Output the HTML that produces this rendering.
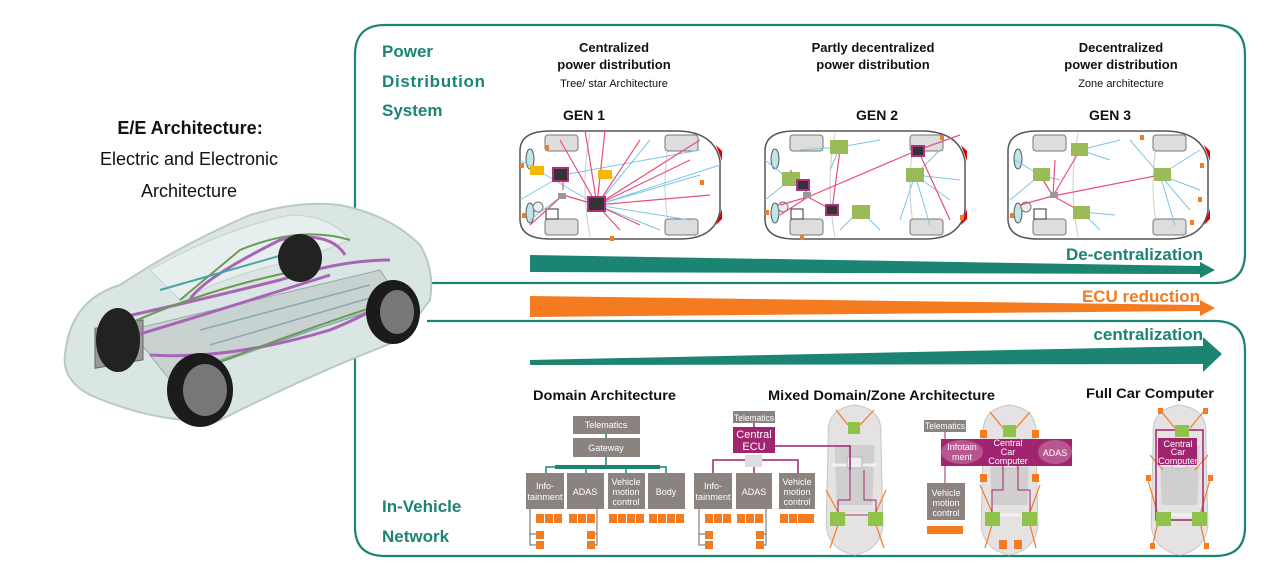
<!DOCTYPE html>
<html><head><meta charset="utf-8">
<style>
html,body{margin:0;padding:0;background:#fff;}
svg{display:block;}
text{font-family:"Liberation Sans",Arial,sans-serif;}
</style></head><body>
<svg width="1269" height="564" viewBox="0 0 1269 564" xmlns="http://www.w3.org/2000/svg">
<defs>
<g id="car">
 <path d="M10,20 Q10,0 40,0 L170,0 Q205,2 210,30 L210,80 Q205,108 170,108 L40,108 Q10,108 10,88 Z" fill="#fff" stroke="#555" stroke-width="1.5"/>
 <path d="M80,2 Q70,54 80,106 M160,4 Q150,54 160,104" fill="none" stroke="#ccc"/>
 <rect x="35" y="4" width="33" height="16" rx="3" fill="#ddd" stroke="#777"/>
 <rect x="155" y="4" width="33" height="16" rx="3" fill="#ddd" stroke="#777"/>
 <rect x="35" y="88" width="33" height="16" rx="3" fill="#ddd" stroke="#777"/>
 <rect x="155" y="88" width="33" height="16" rx="3" fill="#ddd" stroke="#777"/>
 <ellipse cx="20" cy="28" rx="4" ry="10" fill="#bfe6e6" stroke="#555"/>
 <ellipse cx="20" cy="82" rx="4" ry="10" fill="#bfe6e6" stroke="#555"/>
 <path d="M206,14 L212,20 L212,30 Z M206,94 L212,88 L212,78 Z" fill="#d00"/>
 <rect x="36" y="78" width="12" height="10" fill="none" stroke="#333"/>
 <circle cx="28" cy="76" r="5" fill="#eee" stroke="#777"/>
</g>
<g id="topcar">
 <path d="M6,30 Q4,4 31,0 Q58,4 56,30 L58,120 Q56,145 31,150 Q6,145 4,120 Z" fill="#e4e2e2" stroke="#c8c8c8"/>
 <path d="M12,40 L50,40 L48,100 L14,100 Z" fill="#d0cece"/>
 <path d="M8,110 L54,110 M10,60 L52,60" stroke="#f2f2f2" stroke-width="3"/>
 <rect x="24" y="52" width="14" height="11" fill="#eee" stroke="#bbb"/>
</g>
</defs>

<!-- frames -->
<g fill="none" stroke="#1b8472" stroke-width="2.2">
 <path d="M355,217 L355,55 Q355,25 385,25 L1215,25 Q1245,25 1245,55 L1245,253 Q1245,283 1215,283 L427,283"/>
 <path d="M427,321 L1215,321 Q1245,321 1245,351 L1245,527 Q1245,556 1215,556 L385,556 Q355,556 355,527 L355,352 Q355,340 362,338"/>
</g>

<!-- left title -->
<g text-anchor="middle" fill="#111">
 <text x="190" y="134" font-size="18" font-weight="bold">E/E Architecture:</text>
 <text x="189" y="165" font-size="18">Electric and Electronic</text>
 <text x="189" y="197" font-size="18">Architecture</text>
</g>

<!-- big car -->
<g>
 <path d="M65,355 Q70,300 120,285 Q180,245 250,215 Q300,200 340,205 Q390,215 420,245 Q435,270 430,300 L400,340 Q320,370 220,420 Q160,425 90,395 Q62,380 65,355 Z" fill="#d9e6e3" stroke="#b9c9c6" stroke-width="2"/>
 <path d="M150,270 Q220,230 290,215 Q330,215 350,240 L300,260 Q240,270 180,300 Z" fill="#e6efed" stroke="#c5d2cf"/>
 <path d="M130,330 L380,270 L400,300 L170,380 Z" fill="#c8d3d1" stroke="#9aa"/>
 <path d="M200,330 L370,285 M210,345 L380,295 M220,360 L390,305" stroke="#8aa9b0" stroke-width="1.5"/>
 <rect x="95" y="345" width="48" height="40" fill="#999" stroke="#666" transform="skewY(-10)"/>
 <path d="M110,320 Q200,300 280,280 Q340,260 390,260 M120,340 Q220,310 330,275 M150,355 Q230,360 330,330 Q380,310 400,290 M190,300 Q200,280 280,240 Q330,230 345,255" fill="none" stroke="#a964b8" stroke-width="3"/>
 <path d="M115,330 Q200,290 300,270 M200,370 Q300,330 395,300 M180,300 L240,250 Q300,225 350,240" fill="none" stroke="#6c9a58" stroke-width="2"/>
 <path d="M160,290 Q230,270 300,250" fill="none" stroke="#4aa3a6" stroke-width="2"/>
 <ellipse cx="118" cy="340" rx="22" ry="32" fill="#222"/>
 <ellipse cx="300" cy="258" rx="22" ry="24" fill="#222"/>
 <ellipse cx="200" cy="390" rx="33" ry="37" fill="#1b1b1b"/>
 <ellipse cx="205" cy="390" rx="22" ry="26" fill="#777"/>
 <ellipse cx="393" cy="312" rx="27" ry="32" fill="#1b1b1b"/>
 <ellipse cx="397" cy="312" rx="17" ry="22" fill="#777"/>
</g>

<!-- teal labels -->
<g fill="#1b8472" font-weight="bold" font-size="17">
 <text x="382" y="57">Power</text>
 <text x="382" y="87" textLength="103">Distribution</text>
 <text x="382" y="116">System</text>
 <text x="382" y="512">In-Vehicle</text>
 <text x="382" y="542">Network</text>
</g>

<!-- top headers -->
<g text-anchor="middle" fill="#111">
 <text x="614" y="52" font-size="13" font-weight="bold">Centralized</text>
 <text x="614" y="69" font-size="13" font-weight="bold">power distribution</text>
 <text x="614" y="87" font-size="11">Tree/ star Architecture</text>
 <text x="873" y="52" font-size="13" font-weight="bold">Partly decentralized</text>
 <text x="873" y="69" font-size="13" font-weight="bold">power distribution</text>
 <text x="1121" y="52" font-size="13" font-weight="bold">Decentralized</text>
 <text x="1121" y="69" font-size="13" font-weight="bold">power distribution</text>
 <text x="1121" y="87" font-size="11">Zone architecture</text>
 <text x="584" y="120" font-size="14" font-weight="bold">GEN 1</text>
 <text x="877" y="120" font-size="14" font-weight="bold">GEN 2</text>
 <text x="1110" y="120" font-size="14" font-weight="bold">GEN 3</text>
</g>

<!-- top cars -->
<use href="#car" x="510" y="131"/>
<use href="#car" x="755" y="131"/>
<use href="#car" x="998" y="131"/>
<g stroke="#7cc6e8" stroke-width="1" fill="none">
 <path d="M597,205 L520,160 M597,205 L650,140 M597,205 L700,175 M597,205 L720,165 M563,195 L530,220 M597,205 L660,230 M563,175 L700,150 M563,175 L520,200 M597,205 L690,220"/>
</g>
<g stroke="#e8507a" stroke-width="1.2" fill="none">
 <path d="M597,205 L560,140 M597,205 L585,130 M597,205 L605,130 M597,205 L640,140 M597,205 L690,160 M597,205 L710,195 M597,205 L620,230 M597,205 L640,225 M563,190 L563,175 M563,195 L597,205 M563,195 L530,225 M597,205 L700,140"/>
</g>
<rect x="530" y="166" width="14" height="9" fill="#f5b800"/>
<rect x="598" y="170" width="14" height="9" fill="#f5b800"/>
<rect x="553" y="168" width="15" height="13" fill="#333" stroke="#b03080" stroke-width="2"/>
<rect x="588" y="197" width="17" height="14" fill="#333" stroke="#b03080" stroke-width="2"/>
<rect x="558" y="193" width="8" height="6" fill="#999"/>
<g stroke="#7cc6e8" stroke-width="1" fill="none">
 <path d="M840,147 L880,140 M840,147 L800,150 M840,147 L830,170 M915,175 L940,150 M915,175 L950,200 M915,175 L900,220 M915,175 L960,180 M790,180 L765,160 M790,180 L765,200 M860,210 L880,230 M860,210 L840,230 M915,175 L930,225"/>
</g>
<g stroke="#e8507a" stroke-width="1.2" fill="none">
 <path d="M808,197 L918,150 M808,197 L832,210 M808,197 L803,185 M808,197 L780,205 M918,150 L960,135 M918,150 L950,220 M832,210 L840,150 M803,185 L790,170 M808,197 L780,215"/>
</g>
<rect x="782" y="172" width="18" height="14" fill="#9bbb58"/>
<rect x="830" y="140" width="18" height="14" fill="#9bbb58"/>
<rect x="906" y="168" width="18" height="14" fill="#9bbb58"/>
<rect x="852" y="205" width="18" height="14" fill="#9bbb58"/>
<rect x="797" y="180" width="12" height="10" fill="#333" stroke="#b03080" stroke-width="2"/>
<rect x="912" y="146" width="12" height="10" fill="#333" stroke="#b03080" stroke-width="2"/>
<rect x="826" y="205" width="12" height="10" fill="#333" stroke="#b03080" stroke-width="2"/>
<rect x="803" y="192" width="8" height="6" fill="#999"/>
<g stroke="#7cc6e8" stroke-width="1" fill="none">
 <path d="M1080,150 L1120,140 M1080,150 L1110,160 M1040,175 L1015,160 M1040,175 L1010,200 M1040,175 L1060,180 M1160,175 L1200,150 M1160,175 L1200,190 M1160,175 L1190,210 M1160,175 L1130,140 M1082,212 L1100,230 M1082,212 L1115,215 M1160,175 L1175,225"/>
</g>
<g stroke="#e8507a" stroke-width="1.2" fill="none">
 <path d="M1053,196 L1160,175 M1053,196 L1080,150 M1053,196 L1040,175 M1053,196 L1082,212 M1053,196 L1020,205 M1053,196 L1055,160"/>
</g>
<rect x="1071" y="143" width="17" height="13" fill="#9bbb58"/>
<rect x="1033" y="168" width="17" height="13" fill="#9bbb58"/>
<rect x="1154" y="168" width="17" height="13" fill="#9bbb58"/>
<rect x="1073" y="206" width="17" height="13" fill="#9bbb58"/>
<rect x="1050" y="192" width="8" height="6" fill="#999"/>
<g fill="#f47b20">
 <rect x="520" y="163" width="4" height="5"/><rect x="545" y="145" width="4" height="5"/><rect x="700" y="180" width="4" height="5"/><rect x="610" y="236" width="4" height="5"/><rect x="522" y="213" width="4" height="5"/>
 <rect x="940" y="135" width="4" height="5"/><rect x="960" y="215" width="4" height="5"/><rect x="765" y="210" width="4" height="5"/><rect x="800" y="235" width="4" height="5"/>
 <rect x="1200" y="163" width="4" height="5"/><rect x="1198" y="197" width="4" height="5"/><rect x="1140" y="135" width="4" height="5"/><rect x="1010" y="213" width="4" height="5"/><rect x="1190" y="220" width="4" height="5"/>
</g>

<!-- arrows -->
<path d="M530,255 L1200,266 L1200,262 L1215,270 L1200,278 L1200,274 L530,272 Z" fill="#1b8472"/>
<text x="1203" y="260" text-anchor="end" font-size="17" font-weight="bold" fill="#1b8472">De-centralization</text>
<path d="M530,296 L1200,305 L1200,300 L1215,308 L1200,316 L1200,311 L530,317 Z" fill="#f47b20"/>
<text x="1200" y="302" text-anchor="end" font-size="17" font-weight="bold" fill="#f47b20">ECU reduction</text>
<path d="M530,360 L1203,346 L1203,337 L1222,354 L1203,372 L1203,364 L530,365 Z" fill="#1b8472"/>
<text x="1203" y="340" text-anchor="end" font-size="17" font-weight="bold" fill="#1b8472">centralization</text>

<!-- bottom titles -->
<g font-weight="bold" font-size="14" fill="#111">
 <text x="533" y="400" textLength="143" lengthAdjust="spacingAndGlyphs">Domain Architecture</text>
 <text x="768" y="400" textLength="227" lengthAdjust="spacingAndGlyphs">Mixed Domain/Zone Architecture</text>
 <text x="1086" y="398" textLength="128" lengthAdjust="spacingAndGlyphs">Full Car Computer</text>
</g>

<!-- domain architecture -->
<g fill="#8a8380">
 <rect x="573" y="416" width="67" height="18"/>
 <rect x="573" y="438" width="67" height="19"/>
 <rect x="526" y="473" width="38" height="36"/>
 <rect x="567" y="473" width="37" height="36"/>
 <rect x="608" y="473" width="37" height="36"/>
 <rect x="648" y="473" width="37" height="36"/>
</g>
<path d="M606,434 L606,438 M606,457 L606,466 M546,473 L546,467 L666,467 L666,473 M586,467 L586,473 M626,467 L626,473" stroke="#1b8472" stroke-width="1.5" fill="none"/>
<rect x="555" y="465" width="105" height="4" fill="#1b8472"/>
<g fill="#fff" font-size="9" text-anchor="middle">
 <text x="606" y="428">Telematics</text>
 <text x="606" y="451">Gateway</text>
 <text x="545" y="489">Info-</text><text x="545" y="500" textLength="35" lengthAdjust="spacingAndGlyphs">tainment</text>
 <text x="585" y="495">ADAS</text>
 <text x="626" y="485">Vehicle</text><text x="626" y="495">motion</text><text x="626" y="505">control</text>
 <text x="666" y="495">Body</text>
</g>
<g fill="#f47b20">
 <rect x="536" y="514" width="8" height="9"/><rect x="545" y="514" width="8" height="9"/><rect x="554" y="514" width="8" height="9"/>
 <rect x="569" y="514" width="8" height="9"/><rect x="578" y="514" width="8" height="9"/><rect x="587" y="514" width="8" height="9"/>
 <rect x="609" y="514" width="8" height="9"/><rect x="618" y="514" width="8" height="9"/><rect x="627" y="514" width="8" height="9"/><rect x="636" y="514" width="8" height="9"/>
 <rect x="649" y="514" width="8" height="9"/><rect x="658" y="514" width="8" height="9"/><rect x="667" y="514" width="8" height="9"/><rect x="676" y="514" width="8" height="9"/>
 <rect x="536" y="531" width="8" height="8"/><rect x="536" y="541" width="8" height="8"/>
 <rect x="587" y="531" width="8" height="8"/><rect x="587" y="541" width="8" height="8"/>
</g>
<path d="M530,509 L530,545 L536,545 M530,534 L536,534 M597,509 L597,545 L595,545 M597,534 L595,534" stroke="#666" fill="none"/>

<!-- mixed 1 -->
<g transform="translate(822,405) scale(1.05,1)"><use href="#topcar"/></g>
<rect x="733" y="411" width="42" height="12" fill="#8a8380"/>
<rect x="733" y="427" width="42" height="26" fill="#a0246f"/>
<rect x="745" y="455" width="17" height="12" fill="#ddd"/>
<path d="M754,423 L754,427 M775,446 L850,446 L850,470 M713,473 L713,460 L745,460 M762,460 L798,460 L798,473 M754,467 L754,473" stroke="#a0246f" stroke-width="1.5" fill="none"/>
<g fill="#8a8380">
 <rect x="694" y="473" width="38" height="36"/>
 <rect x="736" y="473" width="36" height="36"/>
 <rect x="779" y="473" width="36" height="36"/>
</g>
<g fill="#fff" text-anchor="middle">
 <text x="754" y="421" font-size="9" textLength="40" lengthAdjust="spacingAndGlyphs">Telematics</text>
 <text x="754" y="438" font-size="11">Central</text><text x="754" y="450" font-size="11">ECU</text>
 <text x="713" y="489" font-size="9">Info-</text><text x="713" y="500" font-size="9" textLength="35" lengthAdjust="spacingAndGlyphs">tainment</text>
 <text x="754" y="495" font-size="9">ADAS</text>
 <text x="797" y="485" font-size="9">Vehicle</text><text x="797" y="495" font-size="9">motion</text><text x="797" y="505" font-size="9">control</text>
</g>
<g fill="#f47b20">
 <rect x="705" y="514" width="8" height="9"/><rect x="714" y="514" width="8" height="9"/><rect x="723" y="514" width="8" height="9"/>
 <rect x="737" y="514" width="8" height="9"/><rect x="746" y="514" width="8" height="9"/><rect x="755" y="514" width="8" height="9"/>
 <rect x="780" y="514" width="8" height="9"/><rect x="789" y="514" width="8" height="9"/><rect x="798" y="514" width="8" height="9"/><rect x="806" y="514" width="8" height="9"/>
 <rect x="705" y="531" width="8" height="8"/><rect x="705" y="541" width="8" height="8"/>
 <rect x="756" y="531" width="8" height="8"/><rect x="756" y="541" width="8" height="8"/>
</g>
<path d="M699,509 L699,545 L705,545 M699,534 L705,534 M766,509 L766,545 L764,545 M766,534 L764,534" stroke="#666" fill="none"/>
<g stroke="#f47b20" stroke-width="1.2" fill="none"><path d="M838,512 L826,490 M876,512 L886,490 M838,525 L830,548 M876,525 L884,548 M848,425 L836,410 M860,425 L874,410"/></g>
<path d="M838,515 L876,515 M838,500 L838,512 M876,500 L876,512 M838,500 L850,500 L850,470 M876,500 L864,500 L864,470" stroke="#a0246f" fill="none"/>
<g fill="#8fc34a"><rect x="848" y="422" width="12" height="12"/><rect x="830" y="512" width="15" height="14"/><rect x="868" y="512" width="15" height="14"/></g>

<!-- mixed 2 -->
<g transform="translate(977,405) scale(1.05,1)"><use href="#topcar"/></g>
<g stroke="#f47b20" stroke-width="1.2" fill="none"><path d="M992,512 L980,485 M1030,512 L1040,485 M992,525 L985,548 M1030,525 L1036,548 M1003,428 L990,412 M1016,428 L1030,412"/></g>
<path d="M992,512 L992,490 L1003,490 L1003,466 M1030,512 L1030,490 L1018,490 L1018,466" stroke="#a0246f" fill="none"/>
<rect x="924" y="420" width="42" height="12" fill="#8a8380"/>
<rect x="941" y="439" width="131" height="27" fill="#a0246f"/>
<ellipse cx="962" cy="452" rx="21" ry="12" fill="#b8568f"/>
<ellipse cx="1055" cy="452" rx="17" ry="12" fill="#b8568f"/>
<rect x="927" y="483" width="38" height="37" fill="#8a8380"/>
<path d="M945,432 L945,439 M945,466 L945,483" stroke="#a0246f" fill="none"/>
<g fill="#fff" text-anchor="middle" font-size="9">
 <text x="945" y="429" textLength="40" lengthAdjust="spacingAndGlyphs">Telematics</text>
 <text x="962" y="450">Infotain</text><text x="962" y="460">ment</text>
 <text x="1008" y="446">Central</text><text x="1008" y="455">Car</text><text x="1008" y="464">Computer</text>
 <text x="1055" y="456">ADAS</text>
 <text x="946" y="496">Vehicle</text><text x="946" y="506">motion</text><text x="946" y="516">control</text>
</g>
<rect x="927" y="526" width="36" height="8" fill="#f47b20"/>
<g fill="#8fc34a"><rect x="1003" y="425" width="13" height="12"/><rect x="985" y="512" width="15" height="14"/><rect x="1022" y="512" width="15" height="14"/></g>
<g fill="#f47b20"><rect x="980" y="430" width="7" height="8"/><rect x="1032" y="430" width="7" height="8"/><rect x="999" y="540" width="8" height="9"/><rect x="1014" y="540" width="8" height="9"/><rect x="980" y="474" width="7" height="8"/><rect x="1032" y="474" width="7" height="8"/></g>

<!-- full car computer -->
<g transform="translate(1147,405) scale(1.05,1)"><use href="#topcar"/></g>
<g stroke="#f47b20" stroke-width="1.2" fill="none"><path d="M1158,515 L1148,480 M1158,522 L1152,548 M1200,515 L1210,480 M1200,522 L1206,548 M1175,428 L1160,410 M1190,428 L1205,410 M1163,470 L1150,455 M1195,470 L1208,455"/></g>
<path d="M1156,430 L1203,430 L1203,520 L1156,520 Z" stroke="#a0246f" stroke-width="1.5" fill="none"/>
<rect x="1158" y="438" width="39" height="27" fill="#a0246f"/>
<g fill="#fff" font-size="9" text-anchor="middle"><text x="1178" y="447">Central</text><text x="1178" y="455">Car</text><text x="1178" y="464">Computer</text></g>
<g fill="#8fc34a"><rect x="1175" y="425" width="14" height="12"/><rect x="1156" y="512" width="15" height="14"/><rect x="1192" y="512" width="15" height="14"/></g>
<g fill="#f47b20"><rect x="1146" y="475" width="5" height="6"/><rect x="1208" y="475" width="5" height="6"/><rect x="1150" y="543" width="5" height="6"/><rect x="1204" y="543" width="5" height="6"/><rect x="1158" y="408" width="5" height="6"/><rect x="1203" y="408" width="5" height="6"/></g>
</svg>
</body></html>
